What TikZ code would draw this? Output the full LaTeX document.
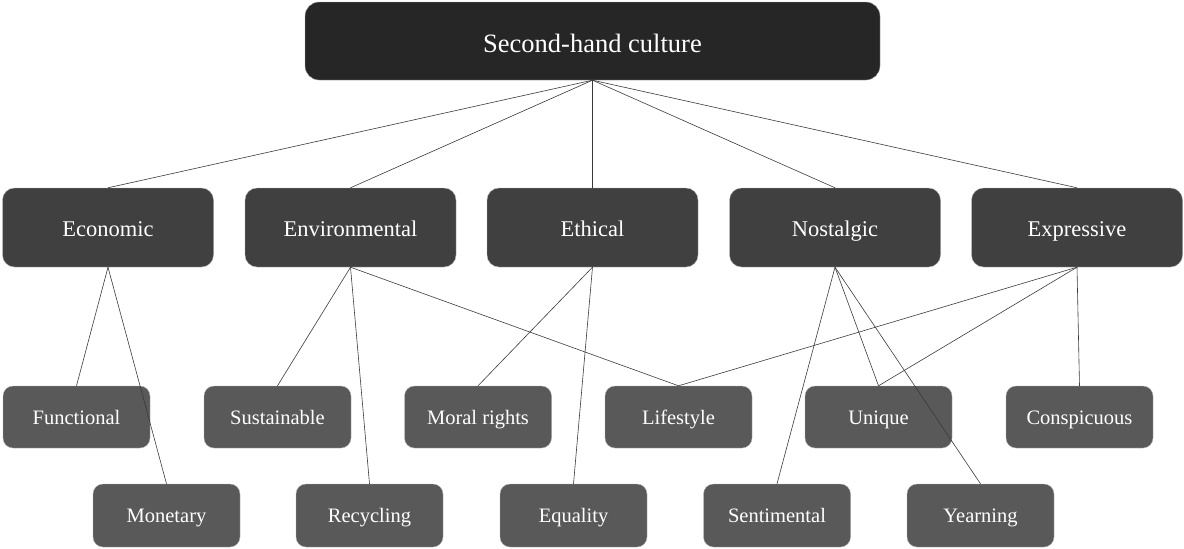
\documentclass[tikz,border=0pt]{standalone}
\usepackage{fontspec}
\setmainfont{Liberation Serif}
\newfontfamily\schema{Liberation Serif}

\definecolor{fondracine}{HTML}{262626}
\definecolor{fondtheme}{HTML}{404040}
\definecolor{fondmotif}{HTML}{595959}
\definecolor{trait}{HTML}{3A3A3A}

\tikzset{boite/.style = {rectangle, rounded corners = #1, text = white, align = center,
                         draw = gray!60, line width = 0.4pt, inner sep = 0pt},
         boite/.default = 10pt,
         racine/.style = {boite = 14pt, fill = fondracine, minimum width = 575pt,
                          minimum height = 78pt, text height = 22pt, text depth = 0pt,
                          font = \schema\fontsize{26.5}{30}\selectfont},
         theme/.style  = {boite = 12pt, fill = fondtheme, minimum width = 211pt,
                          minimum height = 79pt, text height = 17pt, text depth = 0pt,
                          font = \schema\fontsize{22.5}{26}\selectfont},
         motif/.style  = {boite = 10pt, fill = fondmotif, minimum width = 147pt,
                          minimum height = 62pt, text height = 14pt, text depth = 0pt,
                          font = \schema\fontsize{20.5}{24}\selectfont},
         lien/.style   = {draw = trait, line width = 0.6pt}
        }

\begin{document}
\begin{tikzpicture}[x = 1pt, y = -1pt]
  \useasboundingbox (0,0) rectangle (1184,549);

  % racine
  \node[racine] (culture) at (592.5,41) {Second-hand culture};

  % themes
  \node[theme] (economic) at (108,227.5) {Economic};
  \node[theme] (environmental) at (350.5,227.5) {Environmental};
  \node[theme] (ethical) at (592.5,227.5) {Ethical};
  \node[theme] (nostalgic) at (835,227.5) {Nostalgic};
  \node[theme] (expressive) at (1077,227.5) {Expressive};

  % motifs, premiere rangee
  \node[motif] (functional) at (76.5,417) {Functional};
  \node[motif] (sustainable) at (277.5,417) {Sustainable};
  \node[motif] (moral) at (478,417) {Moral rights};
  \node[motif] (lifestyle) at (678.5,417) {Lifestyle};
  \node[motif] (unique) at (878.5,417) {Unique};
  \node[motif] (conspicuous) at (1079.5,417) {Conspicuous};

  % motifs, seconde rangee
  \node[motif, minimum height = 63pt] (monetary) at (166.5,515.5) {Monetary};
  \node[motif, minimum height = 63pt] (recycling) at (369.5,515.5) {Recycling};
  \node[motif, minimum height = 63pt] (equality) at (573.5,515.5) {Equality};
  \node[motif, minimum height = 63pt] (sentimental) at (777,515.5) {Sentimental};
  \node[motif, minimum height = 63pt] (yearning) at (980.5,515.5) {Yearning};

  % liens
  \foreach \t in {economic, environmental, ethical, nostalgic, expressive}
    \draw[lien] (culture.south) -- (\t.north);
  \foreach \m in {functional, monetary}
    \draw[lien] (economic.south) -- (\m.north);
  \foreach \m in {sustainable, recycling, lifestyle}
    \draw[lien] (environmental.south) -- (\m.north);
  \foreach \m in {moral, equality}
    \draw[lien] (ethical.south) -- (\m.north);
  \foreach \m in {sentimental, unique, yearning}
    \draw[lien] (nostalgic.south) -- (\m.north);
  \foreach \m in {lifestyle, unique, conspicuous}
    \draw[lien] (expressive.south) -- (\m.north);
\end{tikzpicture}
\end{document}
